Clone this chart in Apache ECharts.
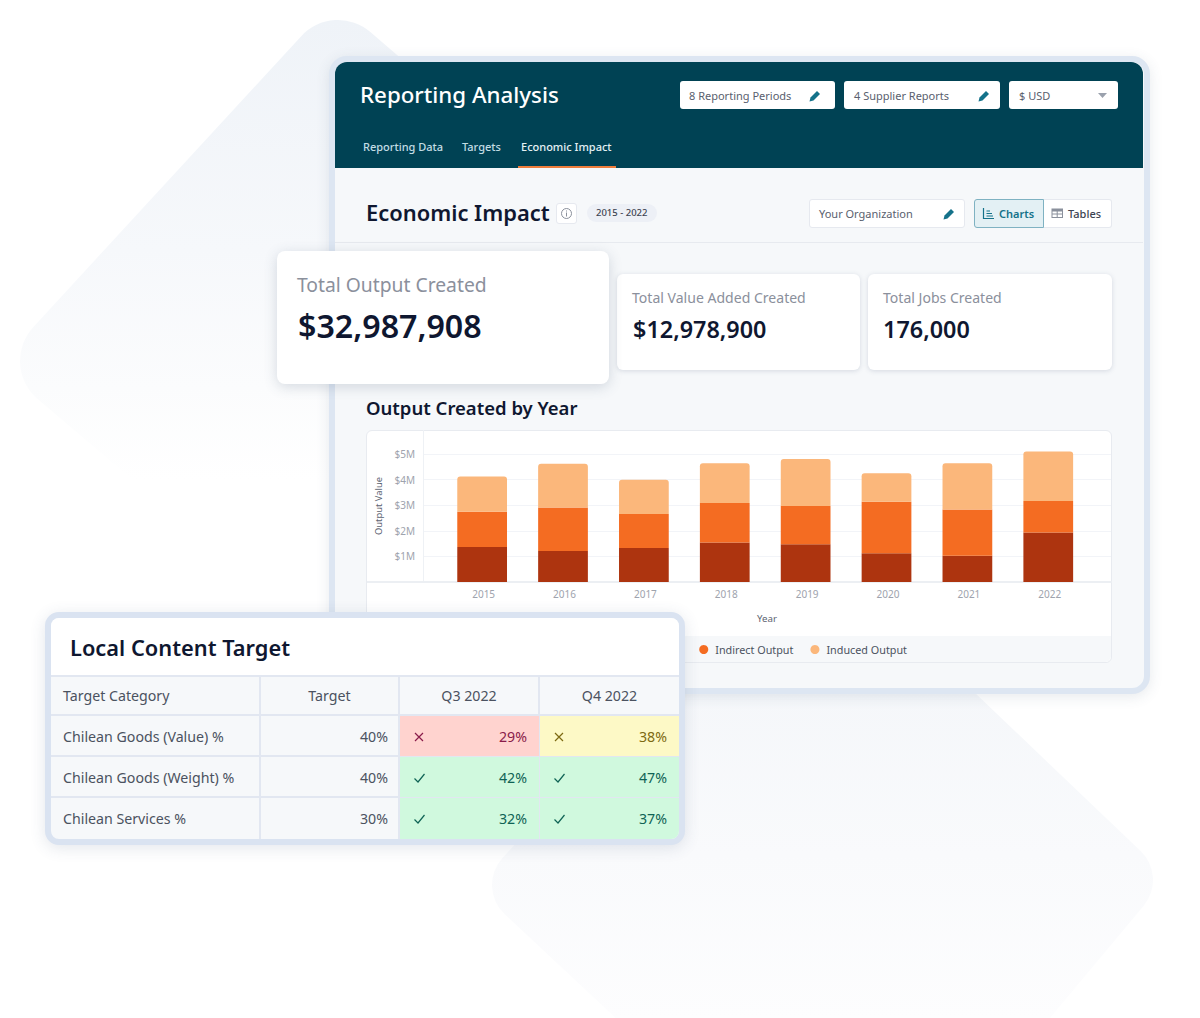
<!DOCTYPE html>
<html>
<head>
<meta charset="utf-8">
<title>Reporting Analysis</title>
<script src="https://cdn.jsdelivr.net/npm/echarts@6/dist/echarts.min.js"></script>
<style>
    html, body { margin: 0; padding: 0; background: #fff; }
    body { width: 1200px; height: 1018px; position: relative; overflow: hidden; font-family: "Noto Sans", sans-serif; color: #111827; }
    .abs { position: absolute; box-sizing: border-box; }
    .t { position: absolute; white-space: nowrap; }
    .box { position: absolute; box-sizing: border-box; background: #fff; border-radius: 3px; }
    .card { position: absolute; box-sizing: border-box; background: #fff; border-radius: 6px; box-shadow: 0 1px 5px rgba(60, 80, 110, .18); }
    .cell { position: absolute; box-sizing: border-box; font-size: 14.2px; color: #4b5260; line-height: 42px; height: 41px; white-space: nowrap; }
    svg { position: absolute; }
</style>
</head>
<body>

<!-- background shapes -->
<svg width="1200" height="1018" style="left:0;top:0">
    <defs>
        <linearGradient id="bgTop" gradientUnits="userSpaceOnUse" x1="0" y1="20" x2="0" y2="480">
            <stop offset="0" stop-color="#eff3f8"/>
            <stop offset="0.5" stop-color="#f6f8fb"/>
            <stop offset="0.8" stop-color="#fbfcfd"/>
            <stop offset="1" stop-color="#ffffff"/>
        </linearGradient>
        <linearGradient id="bgBottom" gradientUnits="userSpaceOnUse" x1="0" y1="690" x2="0" y2="1020">
            <stop offset="0" stop-color="#f5f7fa"/>
            <stop offset="0.5" stop-color="#f9fafc"/>
            <stop offset="1" stop-color="#fdfdfe"/>
        </linearGradient>
    </defs>
    <polygon points="338,70 70,361 470,701 700,382" fill="url(#bgTop)" stroke="url(#bgTop)" stroke-width="100" stroke-linejoin="round"/>
    <polygon points="805,586 1113,880 856,1188 532,885" fill="url(#bgBottom)" stroke="url(#bgBottom)" stroke-width="80" stroke-linejoin="round"/>
</svg>

<!-- main panel -->
<div class="abs" style="left:329px;top:56px;width:821px;height:638px;background:#f6f8fa;border:6px solid #dde6f2;border-radius:18px;box-shadow:0 3px 14px rgba(60,80,110,.12)"></div>
<div class="abs" style="left:335px;top:62px;width:808px;height:106px;background:#004254;border-radius:12px 12px 0 0"></div>
<div class="t" style="left:360px;top:78px;font-size:22.3px;line-height:34px;font-weight:500;color:#fff">Reporting Analysis</div>

<div class="box" style="left:680px;top:81px;width:155px;height:28px"></div>
<div class="t" style="left:689px;top:87px;font-size:11px;line-height:17px;color:#59606e">8 Reporting Periods</div>
<div class="box" style="left:844px;top:81px;width:156px;height:28px"></div>
<div class="t" style="left:854px;top:87px;font-size:11px;line-height:17px;color:#59606e">4 Supplier Reports</div>
<div class="box" style="left:1009px;top:81px;width:109px;height:28px"></div>
<div class="t" style="left:1019px;top:87px;font-size:11px;line-height:17px;color:#59606e">$ USD</div>
<svg width="10" height="6" style="left:1098px;top:93px"><polygon points="0,0 9,0 4.5,5" fill="#9aa1ad"/></svg>

<svg width="14" height="14" style="left:808px;top:89px"><path d="M1.5 12.5 L2.5 8.5 L9 2 L12 5 L5.5 11.5 Z" fill="#14728a"/></svg>
<svg width="14" height="14" style="left:977px;top:89px"><path d="M1.5 12.5 L2.5 8.5 L9 2 L12 5 L5.5 11.5 Z" fill="#14728a"/></svg>

<div class="t" style="left:363px;top:138px;font-size:11px;line-height:18px;font-weight:500;color:#c3dde4">Reporting Data</div>
<div class="t" style="left:462px;top:138px;font-size:11px;line-height:18px;font-weight:500;color:#c3dde4">Targets</div>
<div class="t" style="left:521px;top:138px;font-size:11px;line-height:18px;font-weight:500;color:#e4f1f4">Economic Impact</div>
<div class="abs" style="left:518px;top:166px;width:98px;height:2px;background:#ef7d3c"></div>

<div class="t" style="left:366px;top:196px;font-size:21.9px;line-height:34px;font-weight:600;color:#0f1730">Economic Impact</div>
<div class="box" style="left:556px;top:203px;width:21px;height:21px;border:1px solid #e6e9ef"></div>
<svg width="13" height="13" style="left:560px;top:207px"><circle cx="6.5" cy="6.5" r="5" fill="none" stroke="#8a909c"/><rect x="6" y="5.5" width="1" height="4" fill="#8a909c"/><rect x="6" y="3.5" width="1" height="1" fill="#8a909c"/></svg>
<div class="abs" style="left:587px;top:204px;width:70px;height:18px;background:#edf0f6;border-radius:9px"></div>
<div class="t" style="left:596px;top:204px;font-size:9.5px;line-height:18px;font-weight:500;color:#3d4452">2015 - 2022</div>

<div class="box" style="left:809px;top:199px;width:156px;height:29px;border:1px solid #e6e9ef"></div>
<div class="t" style="left:819px;top:205px;font-size:11px;line-height:17px;color:#59606e">Your Organization</div>
<svg width="14" height="14" style="left:942px;top:207px"><path d="M1.5 12.5 L2.5 8.5 L9 2 L12 5 L5.5 11.5 Z" fill="#14728a"/></svg>
<div class="abs" style="left:974px;top:199px;width:70px;height:29px;background:#e3f0f4;border:1px solid #7fb2c2;border-radius:3px 0 0 3px"></div>
<svg width="13" height="13" style="left:982px;top:207px"><path d="M1.5 1 V11.5 H12 M4.5 4 H8 M4.5 6.5 H10 M4.5 9 H11" fill="none" stroke="#14728a" stroke-width="1.2"/></svg>
<div class="t" style="left:999px;top:205px;font-size:11px;line-height:17px;font-weight:600;color:#14728a">Charts</div>
<div class="abs" style="left:1044px;top:199px;width:68px;height:29px;background:#fff;border:1px solid #e6e9ef;border-left:0;border-radius:0 3px 3px 0"></div>
<svg width="13" height="13" style="left:1051px;top:207px"><rect x="1" y="2" width="10.5" height="8.5" fill="none" stroke="#8a909c"/><rect x="1" y="2" width="10.5" height="2.5" fill="#8a909c"/><path d="M6.2 4 V10 M1 7 H11" stroke="#8a909c"/></svg>
<div class="t" style="left:1068px;top:205px;font-size:11px;line-height:17px;font-weight:500;color:#3d4452">Tables</div>
<div class="abs" style="left:335px;top:242px;width:808px;height:1px;background:#e7eaef"></div>

<!-- KPI cards -->
<div class="card" style="left:617px;top:274px;width:243px;height:96px"></div>
<div class="t" id="kpiLabel1" style="left:632px;top:287px;font-size:14.05px;line-height:22px;color:#8b909c"></div>
<div class="t" id="kpiValue1" style="left:633px;top:312px;font-size:23.4px;line-height:34px;font-weight:600;color:#0f1730"></div>
<div class="card" style="left:868px;top:274px;width:244px;height:96px"></div>
<div class="t" id="kpiLabel2" style="left:883px;top:287px;font-size:14.05px;line-height:22px;color:#8b909c"></div>
<div class="t" id="kpiValue2" style="left:883px;top:312px;font-size:23.4px;line-height:34px;font-weight:600;color:#0f1730"></div>

<div class="t" style="left:366px;top:394px;font-size:18.5px;line-height:28px;font-weight:600;color:#0f1730">Output Created by Year</div>

<!-- chart card -->
<div class="abs" style="left:366px;top:430px;width:746px;height:233px;background:#fff;border:1px solid #e8ebf0;border-radius:6px"></div>
<div class="abs" style="left:367px;top:636px;width:744px;height:26px;background:#f6f8fa;border-radius:0 0 6px 6px"></div>
<div class="abs" style="left:367px;top:581px;width:56px;height:2px;background:#eceff3"></div>
<div id="chart" class="abs" style="left:366px;top:430px;width:746px;height:233px"></div>

<!-- big KPI card, overlaps the panel -->
<div class="card" style="left:277px;top:251px;width:332px;height:133px;border-radius:8px;box-shadow:0 3px 14px rgba(60,80,110,.2)"></div>
<div class="t" id="kpiLabel0" style="left:297px;top:270px;font-size:19.3px;line-height:30px;color:#8b909c"></div>
<div class="t" id="kpiValue0" style="left:298px;top:303px;font-size:32.2px;line-height:46px;font-weight:600;color:#0f1730"></div>

<!-- table card -->
<div class="abs" style="left:45px;top:612px;width:640px;height:233px;background:#f6f8fa;border:6px solid #dae3f1;border-radius:14px;box-shadow:0 3px 16px rgba(60,80,110,.14)"></div>
<div class="abs" style="left:51px;top:618px;width:628px;height:57px;background:#fff;border-radius:8px 8px 0 0"></div>
<div class="t" style="left:70px;top:630px;font-size:21.8px;line-height:36px;font-weight:600;color:#0f1730">Local Content Target</div>
<div id="table"></div>

<script>
var years = ['2015', '2016', '2017', '2018', '2019', '2020', '2021', '2022'];
var directOutput = [1.37, 1.21, 1.33, 1.54, 1.47, 1.12, 1.03, 1.93];
var indirectOutput = [1.37, 1.70, 1.33, 1.55, 1.50, 2.01, 1.80, 1.23];
var inducedOutput = [1.38, 1.71, 1.33, 1.55, 1.83, 1.12, 1.81, 1.94];
var yTickLabels = ['', '$1M', '$2M', '$3M', '$4M', '$5M'];

var kpiLabels = ['Total Output Created', 'Total Value Added Created', 'Total Jobs Created'];
var kpiValues = ['$32,987,908', '$12,978,900', '176,000'];

var tableHeader = ['Target Category', 'Target', 'Q3 2022', 'Q4 2022'];
var targetCategories = ['Chilean Goods (Value) %', 'Chilean Goods (Weight) %', 'Chilean Services %'];
var targetValues = ['40%', '40%', '30%'];
var q3Values = ['29%', '42%', '32%'];
var q3Status = ['bad', 'ok', 'ok'];
var q4Values = ['38%', '47%', '37%'];
var q4Status = ['warn', 'ok', 'ok'];

// kpi text
kpiLabels.forEach(function (label, i) {
    document.getElementById('kpiLabel' + i).textContent = label;
    document.getElementById('kpiValue' + i).textContent = kpiValues[i];
});

// table
var colX = [51, 261, 400, 540, 679];
var rowY = [675, 716, 757, 798, 839];
var statusStyle = {
    bad: { bg: '#ffd3cf', fg: '#8a1c4a', icon: 'M1 1 L9 9 M9 1 L1 9' },
    warn: { bg: '#fdf9c6', fg: '#7d6a12', icon: 'M1 1 L9 9 M9 1 L1 9' },
    ok: { bg: '#d0f9de', fg: '#0f6355', icon: 'M0.5 5.5 L4 9 L10.5 1' }
};
var tableHtml = '';

function cellHtml(col, row, text, align, extra) {
    var pad = align === 'right' ? 'padding-right:10px;' : (align === 'center' ? '' : 'padding-left:12px;');
    return '<div class="cell" style="left:' + colX[col] + 'px;top:' + rowY[row] + 'px;width:' + (colX[col + 1] - colX[col]) +
        'px;text-align:' + align + ';' + pad + (extra || '') + '">' + text + '</div>';
}

function statusCell(col, row, value, status) {
    var s = statusStyle[status];
    var last = col === 3;
    var html = '<div class="cell" style="left:' + colX[col] + 'px;top:' + rowY[row] + 'px;width:' + (colX[col + 1] - colX[col]) +
        'px;text-align:right;padding-right:12px;background:' + s.bg + ';color:' + s.fg + ';' +
        (last ? '' : 'border-right:1px solid #e2e7f1;') + (row === 3 ? '' : 'border-bottom:1px solid #e2e7f1;') +
        (row === 3 && last ? 'border-radius:0 0 8px 0;' : '') + '">' + value + '</div>';
    html += '<svg width="12" height="11" style="left:' + (colX[col] + 14) + 'px;top:' + (rowY[row] + 16) + 'px"><path d="' + s.icon +
        '" fill="none" stroke="' + s.fg + '" stroke-width="1.2"/></svg>';
    return html;
}

tableHeader.forEach(function (h, c) {
    tableHtml += cellHtml(c, 0, h, c === 0 ? 'left' : 'center',
        (c === 3 ? '' : 'border-right:2px solid #e2e7f1;') + 'border-top:2px solid #e2e7f1;border-bottom:2px solid #e2e7f1;line-height:38px;');
});
targetCategories.forEach(function (name, i) {
    var bottom = i === 2 ? '' : 'border-bottom:2px solid #e2e7f1;';
    tableHtml += cellHtml(0, i + 1, name, 'left', 'border-right:2px solid #e2e7f1;' + bottom);
    tableHtml += cellHtml(1, i + 1, targetValues[i], 'right', 'border-right:2px solid #e2e7f1;' + bottom);
    tableHtml += statusCell(2, i + 1, q3Values[i], q3Status[i]);
    tableHtml += statusCell(3, i + 1, q4Values[i], q4Status[i]);
});
document.getElementById('table').innerHTML = tableHtml;

// chart
var chart = echarts.init(document.getElementById('chart'), null, { renderer: 'svg' });
var yMax = 5.9375;
chart.setOption({
    animation: false,
    textStyle: { fontFamily: 'Noto Sans' },
    legend: {
        right: 200,
        top: 209,
        itemWidth: 9,
        itemHeight: 9,
        itemGap: 17,
        icon: 'circle',
        textStyle: { fontSize: 10.8, color: '#4b5260', padding: [0, 0, 0, 2] },
        data: ['Direct Output', 'Indirect Output', 'Induced Output']
    },
    grid: [
        // frame: full width split lines, axis lines and axis names
        { left: 56, right: 1, top: 0, height: 152 },
        // bars
        { left: 75.7, width: 647, top: 0, height: 152 }
    ],
    xAxis: [
        {
            gridIndex: 0,
            type: 'category',
            data: years,
            name: 'Year',
            nameLocation: 'middle',
            nameGap: 31,
            nameTextStyle: { fontSize: 9.7, color: '#5b6270' },
            axisLine: { lineStyle: { color: '#eceff3', width: 2 } },
            axisTick: { show: false },
            axisLabel: { show: false }
        },
        {
            gridIndex: 1,
            type: 'category',
            data: years,
            axisLine: { show: false },
            axisTick: { show: false },
            axisLabel: { fontSize: 10, color: '#9ea3ad', margin: 7, padding: [0, 0, 0, 3] }
        }
    ],
    yAxis: [
        {
            gridIndex: 0,
            type: 'value',
            min: 0,
            max: yMax,
            interval: 1,
            name: 'Output Value',
            nameLocation: 'middle',
            nameGap: 40,
            nameTextStyle: { fontSize: 9.4, color: '#5b6270' },
            axisLine: { show: true, lineStyle: { color: '#eef1f5', width: 1 } },
            axisTick: { show: false },
            axisLabel: {
                fontSize: 10,
                color: '#9ea3ad',
                margin: 8,
                showMinLabel: false,
                showMaxLabel: false,
                formatter: function (v) { return yTickLabels[v] || ''; }
            },
            splitLine: { lineStyle: { color: '#f2f4f8' }, showMinLine: false, showMaxLine: false }
        },
        {
            gridIndex: 1,
            type: 'value',
            min: 0,
            max: yMax,
            show: false
        }
    ],
    series: [
        { name: 'Direct Output', type: 'bar', stack: 'output', xAxisIndex: 1, yAxisIndex: 1, barWidth: '61.5%', data: directOutput, itemStyle: { color: '#ad340f' } },
        { name: 'Indirect Output', type: 'bar', stack: 'output', xAxisIndex: 1, yAxisIndex: 1, barWidth: '61.5%', data: indirectOutput, itemStyle: { color: '#f46c22' } },
        { name: 'Induced Output', type: 'bar', stack: 'output', xAxisIndex: 1, yAxisIndex: 1, barWidth: '61.5%', data: inducedOutput, itemStyle: { color: '#fbb77b', borderRadius: [3, 3, 0, 0] } }
    ]
});
</script>
</body>
</html>
